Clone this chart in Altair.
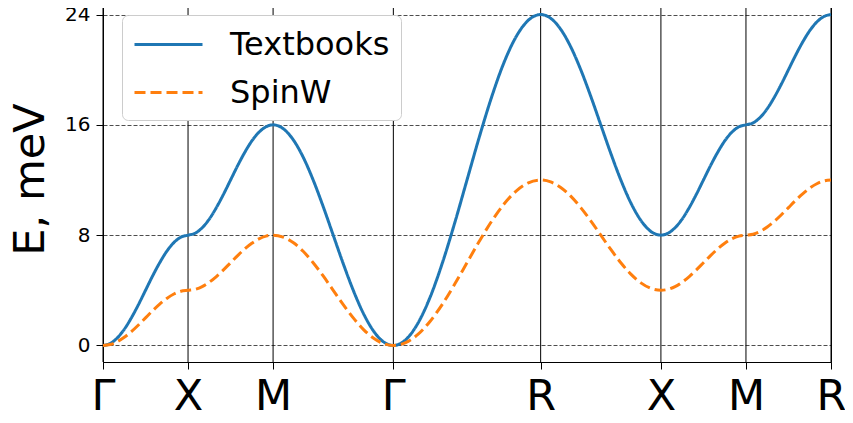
import altair as alt
import numpy as np
import pandas as pd

# High-symmetry path labels and their positions along the path
labels = ["Γ", "X", "M", "Γ", "R", "X", "M", "R"]
node_pos = [0.0, 1.0, 2.0, 3.4142, 5.1463, 6.5605, 7.5605, 8.5605]

# Energies (meV) read along the path, 13 samples per segment
textbooks = [
    0.0, 0.14, 0.54, 1.17, 2.0, 2.96, 4.0, 5.04, 6.0, 6.83, 7.46, 7.86, 8.0,
    8.14, 8.54, 9.17, 10.0, 10.96, 12.0, 13.04, 14.0, 14.83, 15.46, 15.86, 16.0,
    15.73, 14.93, 13.66, 12.0, 10.07, 8.0, 5.93, 4.0, 2.34, 1.07, 0.27, 0.0,
    0.41, 1.61, 3.51, 6.0, 8.89, 12.0, 15.11, 18.0, 20.49, 22.39, 23.59, 24.0,
    23.73, 22.93, 21.66, 20.0, 18.07, 16.0, 13.93, 12.0, 10.34, 9.07, 8.27, 8.0,
    8.14, 8.54, 9.17, 10.0, 10.96, 12.0, 13.04, 14.0, 14.83, 15.46, 15.86, 16.0,
    16.14, 16.54, 17.17, 18.0, 18.96, 20.0, 21.04, 22.0, 22.83, 23.46, 23.86, 24.0,
]
spinw = [
    0.0, 0.07, 0.27, 0.59, 1.0, 1.48, 2.0, 2.52, 3.0, 3.41, 3.73, 3.93, 4.0,
    4.07, 4.27, 4.59, 5.0, 5.48, 6.0, 6.52, 7.0, 7.41, 7.73, 7.93, 8.0,
    7.86, 7.46, 6.83, 6.0, 5.04, 4.0, 2.96, 2.0, 1.17, 0.54, 0.14, 0.0,
    0.2, 0.8, 1.76, 3.0, 4.45, 6.0, 7.55, 9.0, 10.24, 11.2, 11.8, 12.0,
    11.86, 11.46, 10.83, 10.0, 9.04, 8.0, 6.96, 6.0, 5.17, 4.54, 4.14, 4.0,
    4.07, 4.27, 4.59, 5.0, 5.48, 6.0, 6.52, 7.0, 7.41, 7.73, 7.93, 8.0,
    8.07, 8.27, 8.59, 9.0, 9.48, 10.0, 10.52, 11.0, 11.41, 11.73, 11.93, 12.0,
]
series_names = ["Textbooks", "SpinW"]
series_colors = ["#1f77b4", "#ff7f0e"]
y_ticks = [0, 8, 16, 24]

# sampling positions along the path
xs = [node_pos[0]]
for a, b in zip(node_pos[:-1], node_pos[1:]):
    xs += list(np.linspace(a, b, 13)[1:])

df = pd.concat([
    pd.DataFrame({"x": xs, "E": textbooks, "model": series_names[0]}),
    pd.DataFrame({"x": xs, "E": spinw, "model": series_names[1]}),
], ignore_index=True)

nodes = pd.DataFrame({"x": node_pos})

label_expr = "[" + ",".join(f"'{l}'" for l in labels) + "][indexof([" + ",".join(str(p) for p in node_pos) + "], datum.value)]"

x_scale = alt.Scale(domain=[0, node_pos[-1]], nice=False, zero=False)
y_scale = alt.Scale(domain=[-1.2, 25.2], nice=False, zero=False)

rules = alt.Chart(nodes).mark_rule(color="black", strokeWidth=1).encode(
    x=alt.X("x:Q", scale=x_scale,
            axis=alt.Axis(values=node_pos, labelExpr=label_expr, title=None,
                          labelFontSize=43, labelPadding=6, grid=False,
                          labelFlush=False, labelOverlap=False))
)

lines = alt.Chart(df).mark_line(strokeWidth=3, interpolate="monotone").encode(
    x=alt.X("x:Q", scale=x_scale),
    y=alt.Y("E:Q", scale=y_scale,
            axis=alt.Axis(values=y_ticks, title="E, meV", titleFontSize=43,
                          titleFontWeight="normal", titleAngle=270,
                          titleBaseline="alphabetic", titleAlign="center",
                          titleX=-60, titleY=181, labelFontSize=20,
                          labelPadding=6, grid=True, gridDash=[4, 2],
                          gridColor="black", gridWidth=0.7, gridOpacity=1)),
    color=alt.Color("model:N", scale=alt.Scale(domain=series_names, range=series_colors),
                    title=None, sort=series_names),
    strokeDash=alt.StrokeDash("model:N", scale=alt.Scale(domain=series_names, range=[[1, 0], [11, 5]]),
                              title=None, sort=series_names),
)

chart = alt.layer(rules, lines).properties(
    width=728, height=364,
    autosize=alt.AutoSizeParams(type="none"),
    padding={"left": 95, "top": -10, "right": 14, "bottom": 60},
).configure_view(
    stroke="black", strokeWidth=1
).configure_axis(
    domainColor="black", domainWidth=1, tickColor="black", tickWidth=1,
    tickSize=7, labelColor="black", titleColor="black",
    labelFont="DejaVu Sans", titleFont="DejaVu Sans",
).configure_legend(
    orient="none", legendX=19, legendY=17,
    symbolType="M-2,0H2", symbolSize=1156, symbolStrokeWidth=3,
    symbolOffset=17,
    labelFontSize=32, labelFont="DejaVu Sans", labelColor="black",
    labelOffset=43, padding=11, rowPadding=13,
    fillColor="white", strokeColor="#cccccc", cornerRadius=6,
)

chart.save("out.html", embed_options={"renderer": "svg", "actions": False})
